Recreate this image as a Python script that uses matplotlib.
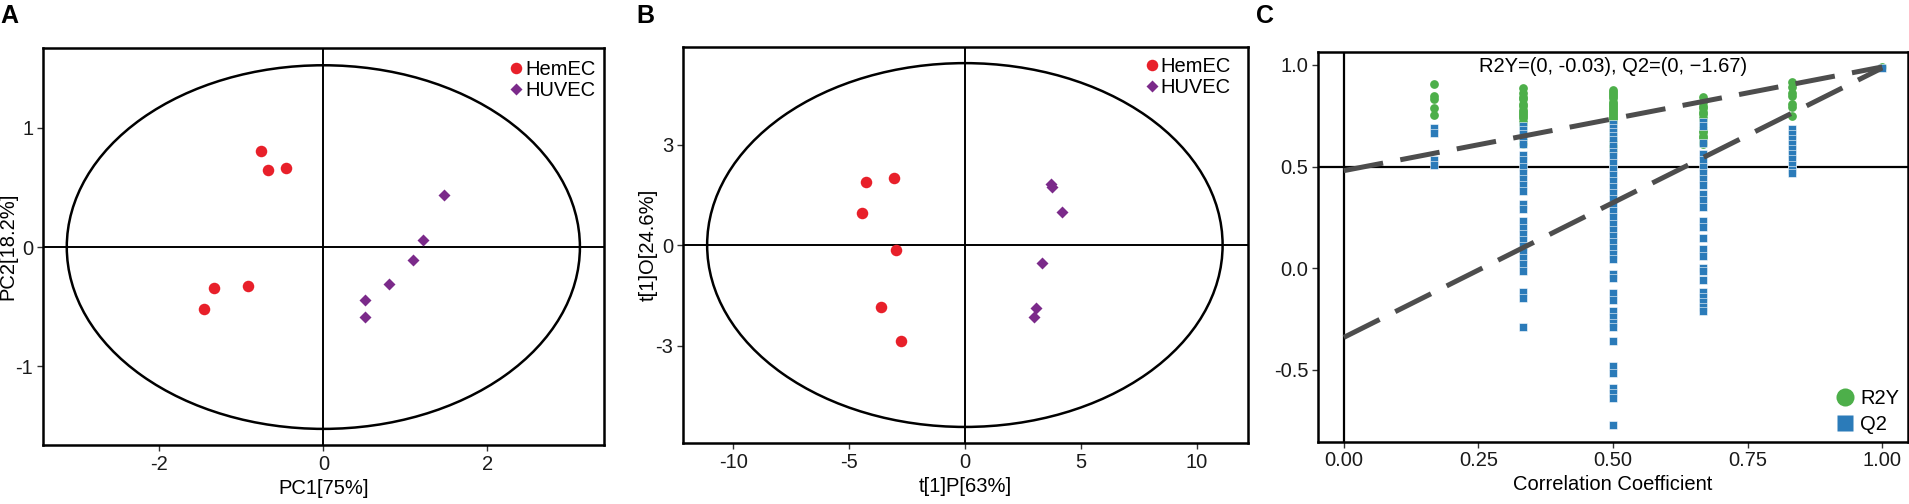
import matplotlib
matplotlib.use("Agg")
import matplotlib.pyplot as plt
from matplotlib.patches import Ellipse
from matplotlib.lines import Line2D
from matplotlib.ticker import FormatStrFormatter

plt.rcParams['font.family'] = ['Liberation Sans', 'DejaVu Sans']
plt.rcParams['axes.unicode_minus'] = False

RED = '#E8202A'
PURPLE = '#7B2A8A'
GREEN = '#4DAF4A'
BLUE = '#2B7BB9'

# ---- A: PCA scores
pca_hem_x = [-0.76, -0.67, -0.45, -1.33, -0.92, -1.45]
pca_hem_y = [0.81, 0.65, 0.66, -0.34, -0.33, -0.52]
pca_huv_x = [1.47, 1.21, 1.09, 0.80, 0.51, 0.51]
pca_huv_y = [0.44, 0.056, -0.11, -0.31, -0.445, -0.585]
pca_ellipse = (3.13, 1.525)   # semi-axes of the T2 ellipse

# ---- B: OPLS-DA scores
opls_hem_x = [-4.28, -3.04, -4.42, -2.96, -3.64, -2.76]
opls_hem_y = [1.89, 2.01, 0.96, -0.15, -1.86, -2.85]
opls_huv_x = [3.72, 3.75, 4.17, 3.33, 3.08, 2.99]
opls_huv_y = [1.81, 1.74, 1.00, -0.53, -1.87, -2.14]
opls_ellipse = (11.12, 5.43)

# ---- C: permutation test
cor_levels = [0.167, 0.333, 0.5, 0.667, 0.833, 1.0]
r2y_perm = [
    [0.905, 0.845, 0.83, 0.79, 0.755],
    [0.885, 0.86, 0.84, 0.83, 0.81, 0.80, 0.78, 0.77, 0.76, 0.75, 0.74, 0.72,
     0.71, 0.70, 0.69, 0.68, 0.67, 0.66, 0.65, 0.64, 0.63, 0.62, 0.61],
    [0.875, 0.865, 0.855, 0.845, 0.835, 0.82, 0.81, 0.80, 0.79, 0.78, 0.77, 0.76,
     0.75, 0.74, 0.73, 0.72, 0.71, 0.70, 0.69, 0.68, 0.67, 0.66, 0.65, 0.64,
     0.63, 0.62, 0.61, 0.60, 0.59, 0.575],
    [0.84, 0.82, 0.80, 0.79, 0.77, 0.76, 0.74, 0.73, 0.71, 0.70, 0.68, 0.67,
     0.65, 0.64, 0.62, 0.61],
    [0.915, 0.89, 0.86, 0.845, 0.81, 0.795, 0.75],
    [0.99],
]
q2_perm = [
    [0.689, 0.666, 0.53, 0.51],
    [0.70, 0.68, 0.66, 0.64, 0.61, 0.555, 0.53, 0.50, 0.47, 0.44, 0.41, 0.38,
     0.317, 0.29, 0.23, 0.20, 0.17, 0.14, 0.11, 0.08, 0.05, 0.02, -0.015,
     -0.115, -0.145, -0.29],
    [0.71, 0.69, 0.67, 0.65, 0.63, 0.60, 0.57, 0.55, 0.52, 0.49, 0.46, 0.43,
     0.40, 0.37, 0.34, 0.31, 0.28, 0.25, 0.22, 0.19, 0.16, 0.13, 0.10, 0.07,
     0.045, -0.03, -0.05, -0.12, -0.155, -0.21, -0.24, -0.27, -0.29, -0.36,
     -0.48, -0.515, -0.59, -0.615, -0.64, -0.77],
    [0.72, 0.70, 0.615, 0.56, 0.53, 0.50, 0.47, 0.44, 0.41, 0.365, 0.335, 0.30,
     0.23, 0.205, 0.148, 0.095, 0.06, 0.0, -0.015, -0.06, -0.115, -0.14,
     -0.165, -0.19, -0.21],
    [0.685, 0.66, 0.635, 0.61, 0.585, 0.56, 0.535, 0.51, 0.485, 0.47],
    [0.985],
]
line_x = [0, 1]
r2y_line = [0.48, 0.99]
q2_line = [-0.34, 0.985]
perm_text = 'R2Y=(0, -0.03), Q2=(0, \u22121.67)'

FS = 14.5


def style_axes(ax):
    for s in ax.spines.values():
        s.set_linewidth(1.8)
        s.set_color('black')
    ax.tick_params(direction='out', length=4, width=1, color='#333333',
                   labelsize=FS, labelcolor='#1a1a1a', pad=3)


def score_panel(ax, hx, hy, ux, uy, ell, xlim, ylim, xticks, yticks, xlabel, ylabel, leg_anchor):
    ax.add_patch(Ellipse((0, 0), 2 * ell[0], 2 * ell[1], fill=False, lw=1.8, ec='black'))
    ax.axhline(0, color='black', lw=1.4)
    ax.axvline(0, color='black', lw=1.4)
    ax.plot(hx, hy, 'o', color=RED, ms=8.3, mec='none', zorder=3)
    ax.plot(ux, uy, 'D', color=PURPLE, ms=5.8, mec='none', zorder=3)
    ax.set_xlim(*xlim)
    ax.set_ylim(*ylim)
    ax.set_xticks(xticks)
    ax.set_yticks(yticks)
    ax.set_xlabel(xlabel, fontsize=FS, va='center')
    ax.set_ylabel(ylabel, fontsize=FS, va='center')
    ax.xaxis.set_label_coords(0.5, -0.11)
    ax.yaxis.set_label_coords(-0.062, 0.5)
    handles = [Line2D([], [], ls='none', marker='o', color=RED, ms=8.3, mec='none'),
               Line2D([], [], ls='none', marker='D', color=PURPLE, ms=5.8, mec='none')]
    ax.legend(handles, ['HemEC', 'HUVEC'], loc='upper right', bbox_to_anchor=leg_anchor,
              frameon=False, fontsize=FS, handlelength=0.6, handletextpad=0.15,
              labelspacing=0.1, borderaxespad=0, borderpad=0)
    style_axes(ax)


fig = plt.figure(figsize=(19.09, 5.04), dpi=100)

axA = fig.add_axes([0.02253, 0.1171, 0.2937, 0.7877])
score_panel(axA, pca_hem_x, pca_hem_y, pca_huv_x, pca_huv_y, pca_ellipse,
            (-3.42, 3.42), (-1.66, 1.67), [-2, 0, 2], [-1, 0, 1],
            'PC1[75%]', 'PC2[18.2%]', (0.985, 0.97))

axB = fig.add_axes([0.3578, 0.1210, 0.2960, 0.7863])
score_panel(axB, opls_hem_x, opls_hem_y, opls_huv_x, opls_huv_y, opls_ellipse,
            (-12.16, 12.22), (-5.91, 5.92), [-10, -5, 0, 5, 10], [-3, 0, 3],
            't[1]P[63%]', 't[1]O[24.6%]', (0.97, 0.975))

axC = fig.add_axes([0.6904, 0.1236, 0.3091, 0.7738])
axC.axvline(0, color='black', lw=1.6)
axC.axhline(0.5, color='black', lw=1.6)
for lvl, vals in zip(cor_levels, r2y_perm):
    axC.plot([lvl] * len(vals), vals, 'o', color=GREEN, ms=6.3, mec='none', zorder=3)
for lvl, vals in zip(cor_levels, q2_perm):
    axC.plot([lvl] * len(vals), vals, 's', color=BLUE, ms=5.8, mec='white', mew=0.4, zorder=4)
for yy in (r2y_line, q2_line):
    axC.plot(line_x, yy, color='#4d4d4d', lw=3.6, ls=(0, (8, 3.5)),
             dash_capstyle='butt', zorder=5)
axC.text(0.5, 0.99, perm_text, ha='center', va='center', fontsize=FS, zorder=6)
axC.set_xlim(-0.048, 1.048)
axC.set_ylim(-0.853, 1.065)
axC.set_xticks([0, 0.25, 0.5, 0.75, 1.0])
axC.set_yticks([-0.5, 0, 0.5, 1.0])
axC.xaxis.set_major_formatter(FormatStrFormatter('%.2f'))
axC.yaxis.set_major_formatter(FormatStrFormatter('%.1f'))
axC.set_xlabel('Correlation Coefficient', fontsize=FS, va='center')
axC.xaxis.set_label_coords(0.5, -0.111)
hC = [Line2D([], [], ls='none', marker='o', color=GREEN, ms=13, mec='none'),
      Line2D([], [], ls='none', marker='s', color=BLUE, ms=12, mec='none')]
axC.legend(hC, ['R2Y', 'Q2'], loc='lower right', bbox_to_anchor=(0.985, 0.02),
           frameon=False, fontsize=FS, handlelength=1.0, handletextpad=0.25,
           labelspacing=0.35, borderaxespad=0, borderpad=0)
style_axes(axC)

for lab, xp in (('A', 0.0), ('B', 636 / 1909), ('C', 1256 / 1909)):
    fig.text(xp, 1 - 16 / 504, lab, fontsize=18, fontweight='bold', va='center', ha='left')

fig.savefig('out.png', dpi=100)
